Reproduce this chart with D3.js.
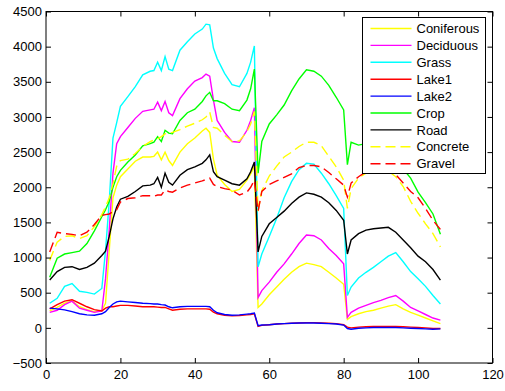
<!DOCTYPE html>
<html>
<head>
<meta charset="utf-8">
<script src="https://cdn.jsdelivr.net/npm/d3@7"></script>
<style>
  body { margin: 0; background: #fff; }
  svg text { font-family: "Liberation Sans", Arial, sans-serif; font-size: 13px; fill: #000; }
</style>
</head>
<body>
<svg id="chart" width="505" height="391"></svg>
<script>
// band index (x) shared by all series
const bands = [1, 3, 5, 7, 9, 11, 13, 15, 16, 17, 18, 19, 20, 22, 24, 26, 28, 29, 30, 31, 32, 33, 34,
  36, 38, 40, 42, 43, 44, 45, 46, 48, 50, 52, 54, 55, 56, 57, 58, 60, 62, 64, 66, 68, 70, 72, 74, 76,
  78, 80, 81, 82, 84, 86, 88, 90, 92, 94, 96, 98, 100, 102, 104, 106];

const coniferous = [240, 290, 350, 380, 300, 260, 230, 250, 350, 1100, 1850, 2030, 2150, 2260, 2370, 2430,
  2430, 2440, 2500, 2390, 2500, 2380, 2310, 2500, 2620, 2700, 2800, 2840, 2780, 2400, 2170, 2040, 1940,
  1970, 2100, 2190, 2300, 290, 340, 470, 580, 690, 790, 870, 920, 900, 870, 790, 710, 620, 120, 160, 200,
  230, 250, 280, 310, 330, 270, 220, 180, 140, 100, 60];
const deciduous = [220, 250, 330, 380, 280, 250, 220, 240, 700, 1400, 2200, 2620, 2720, 2850, 2980, 3080,
  3100, 3110, 3210, 3090, 3220, 3060, 3020, 3260, 3400, 3510, 3560, 3610, 3580, 3240, 2950, 2780, 2650,
  2640, 2810, 2950, 3130, 430, 530, 650, 790, 910, 1050, 1200, 1320, 1310, 1250, 1130, 1030, 910, 150,
  220, 280, 320, 360, 390, 430, 460, 380, 290, 240, 190, 140, 110];
const grass = [350, 420, 590, 630, 520, 505, 480, 560, 1100, 1800, 2700, 2920, 3150, 3290, 3430, 3600,
  3650, 3660, 3780, 3660, 3860, 3680, 3660, 3950, 4070, 4180, 4250, 4320, 4310, 3980, 3830, 3620, 3460,
  3430, 3620, 3780, 4010, 870, 1050, 1300, 1560, 1850, 2080, 2250, 2340, 2330, 2200, 2050, 1880, 1700,
  460, 580, 710, 790, 860, 940, 1020, 1070, 940, 800, 700, 590, 460, 340];
const lake1 = [270, 330, 380, 400, 350, 300, 260, 240, 280, 300, 300, 310, 320, 320, 310, 300, 300, 300,
  295, 290, 290, 270, 250, 265, 270, 270, 270, 270, 265, 225, 200, 180, 170, 175, 185, 190, 200, 20, 35,
  45, 55, 60, 65, 70, 75, 75, 70, 65, 60, 45, 10, 0, 10, 15, 20, 20, 20, 20, 15, 10, 5, 0, -10, -10];
const lake2 = [280, 270, 255, 230, 200, 185, 180, 200, 230, 290, 340, 370, 380, 370, 360, 350, 345, 340,
  340, 330, 325, 300, 285, 300, 305, 305, 305, 305, 300, 250, 215, 190, 180, 185, 195, 200, 210, 30, 40,
  45, 55, 60, 65, 70, 70, 70, 65, 60, 55, 40, -10, -20, -5, 0, 5, 5, 5, 5, 0, -5, -10, -15, -20, -15];
const crop = [720, 990, 1050, 1070, 1090, 1200, 1380, 1580, 1680, 1800, 2000, 2150, 2240, 2360, 2460, 2590,
  2620, 2640, 2720, 2650, 2810, 2770, 2760, 2950, 3060, 3110, 3220, 3300, 3350, 3230, 3230, 3190, 3110,
  3090, 3240, 3400, 3680, 2200, 2650, 2900, 3030, 3170, 3370, 3540, 3670, 3650, 3580, 3450, 3280, 3100,
  2320, 2640, 2600, 2620, 2600, 2560, 2480, 2380, 2260, 2130, 1930, 1780, 1620, 1330];
const road = [680, 800, 860, 870, 830, 860, 920, 1030, 1090, 1300, 1550, 1720, 1830, 1870, 1940, 2020,
  2030, 2050, 2140, 2000, 2200, 2070, 2030, 2170, 2250, 2290, 2340, 2390, 2460, 2220, 2150, 2100, 2050,
  2030, 2120, 2220, 2360, 1080, 1300, 1480, 1570, 1660, 1770, 1860, 1920, 1900, 1860, 1780, 1670, 1530,
  1050, 1250, 1340, 1390, 1410, 1420, 1430, 1360, 1250, 1140, 1020, 940, 830, 680];
const concrete = [960, 1220, 1300, 1310, 1270, 1310, 1440, 1610, 1720, 1850, 2050, 2300, 2380, 2400, 2480,
  2580, 2650, 2670, 2690, 2720, 2760, 2770, 2780, 2820, 2870, 2910, 2960, 3000, 3070, 2850, 2840, 2740,
  2650, 2660, 2790, 2900, 3080, 1660, 1950, 2160, 2300, 2430, 2500, 2580, 2640, 2640, 2590, 2440, 2290,
  2100, 1700, 1980, 2130, 2200, 2240, 2250, 2230, 2150, 2010, 1800, 1630, 1480, 1340, 1150];
const gravel = [1080, 1360, 1340, 1330, 1310, 1360, 1470, 1600, 1610, 1620, 1650, 1680, 1790, 1840, 1850,
  1880, 1880, 1870, 1890, 1890, 1960, 1940, 1930, 1990, 2030, 2060, 2090, 2110, 2130, 2040, 2010, 1980,
  1960, 1890, 1930, 2000, 2100, 1660, 1940, 2040, 2090, 2140, 2190, 2280, 2310, 2310, 2290, 2210, 2120,
  2030, 1860, 2060, 2150, 2220, 2260, 2270, 2250, 2180, 2060, 1940, 1850, 1700, 1530, 1400];

const names = ['Coniferous', 'Deciduous', 'Grass', 'Lake1', 'Lake2', 'Crop', 'Road', 'Concrete', 'Gravel'];
const xTicks = [0, 20, 40, 60, 80, 100, 120];
const yTicks = [-500, 0, 500, 1000, 1500, 2000, 2500, 3000, 3500, 4000, 4500];

const series = [
  { values: coniferous, color: '#ffff00', dash: null },
  { values: deciduous, color: '#ff00ff', dash: null },
  { values: grass, color: '#00ffff', dash: null },
  { values: lake1, color: '#ff0000', dash: null },
  { values: lake2, color: '#0000ff', dash: null },
  { values: crop, color: '#00ff00', dash: null },
  { values: road, color: '#000000', dash: null },
  { values: concrete, color: '#ffff00', dash: '10,5' },
  { values: gravel, color: '#ff0000', dash: '10,5' },
].map((s, i) => ({ ...s, name: names[i] }));

const box = { left: 46, right: 492.5, top: 11.5, bottom: 363 };

const svg = d3.select('#chart');

const x = d3.scaleLinear().domain([0, 120]).range([box.left, box.right]);
const y = d3.scaleLinear().domain([-500, 4500]).range([box.bottom, box.top]);

const line = d3
  .line()
  .x((d) => x(d[0]))
  .y((d) => y(d[1]));

svg
  .append('g')
  .selectAll('path')
  .data(series)
  .join('path')
  .attr('fill', 'none')
  .attr('stroke', (d) => d.color)
  .attr('stroke-width', 1.4)
  .attr('stroke-dasharray', (d) => d.dash)
  .attr('d', (d) => line(bands.map((b, i) => [b, d.values[i]])));

// axes, ticks pointing inward like MATLAB
const axes = svg.append('g');
axes
  .append('g')
  .attr('transform', `translate(0,${box.bottom})`)
  .call(d3.axisBottom(x).tickValues(xTicks).tickSizeInner(-5).tickSizeOuter(0).tickPadding(7));
axes
  .append('g')
  .attr('transform', `translate(${box.left},0)`)
  .call(
    d3
      .axisLeft(y)
      .tickValues(yTicks)
      .tickSizeInner(-5)
      .tickSizeOuter(0)
      .tickPadding(4)
      .tickFormat((d) => (d < 0 ? '\u2212' + Math.abs(d) : d))
  );
axes
  .append('g')
  .attr('transform', `translate(0,${box.top})`)
  .call(d3.axisTop(x).tickValues(xTicks).tickSizeInner(-5).tickSizeOuter(0).tickFormat(''));
axes
  .append('g')
  .attr('transform', `translate(${box.right},0)`)
  .call(d3.axisRight(y).tickValues(yTicks).tickSizeInner(-5).tickSizeOuter(0).tickFormat(''));

axes.selectAll('.domain').remove();
axes.selectAll('.tick line').attr('stroke', '#000');
axes.selectAll('.tick text').attr('font-size', 13).attr('font-family', '"Liberation Sans", Arial, sans-serif').attr('fill', '#000');

svg
  .append('rect')
  .attr('x', box.left)
  .attr('y', box.top)
  .attr('width', box.right - box.left)
  .attr('height', box.bottom - box.top)
  .attr('fill', 'none')
  .attr('stroke', '#000')
  .attr('stroke-width', 1);

// legend
const legend = svg.append('g').attr('transform', 'translate(362.5,17.5)');
legend
  .append('rect')
  .attr('width', 123)
  .attr('height', 156)
  .attr('fill', '#fff')
  .attr('stroke', '#000');

const item = legend
  .selectAll('g.item')
  .data(series)
  .join('g')
  .attr('class', 'item')
  .attr('transform', (d, i) => `translate(0,${11 + i * 16.9})`);

item
  .append('line')
  .attr('x1', 8)
  .attr('x2', 49)
  .attr('stroke', (d) => d.color)
  .attr('stroke-width', 1.4)
  .attr('stroke-dasharray', (d) => d.dash);

item
  .append('text')
  .attr('x', 54)
  .attr('dy', '0.36em')
  .text((d) => d.name);
</script>
</body>
</html>
